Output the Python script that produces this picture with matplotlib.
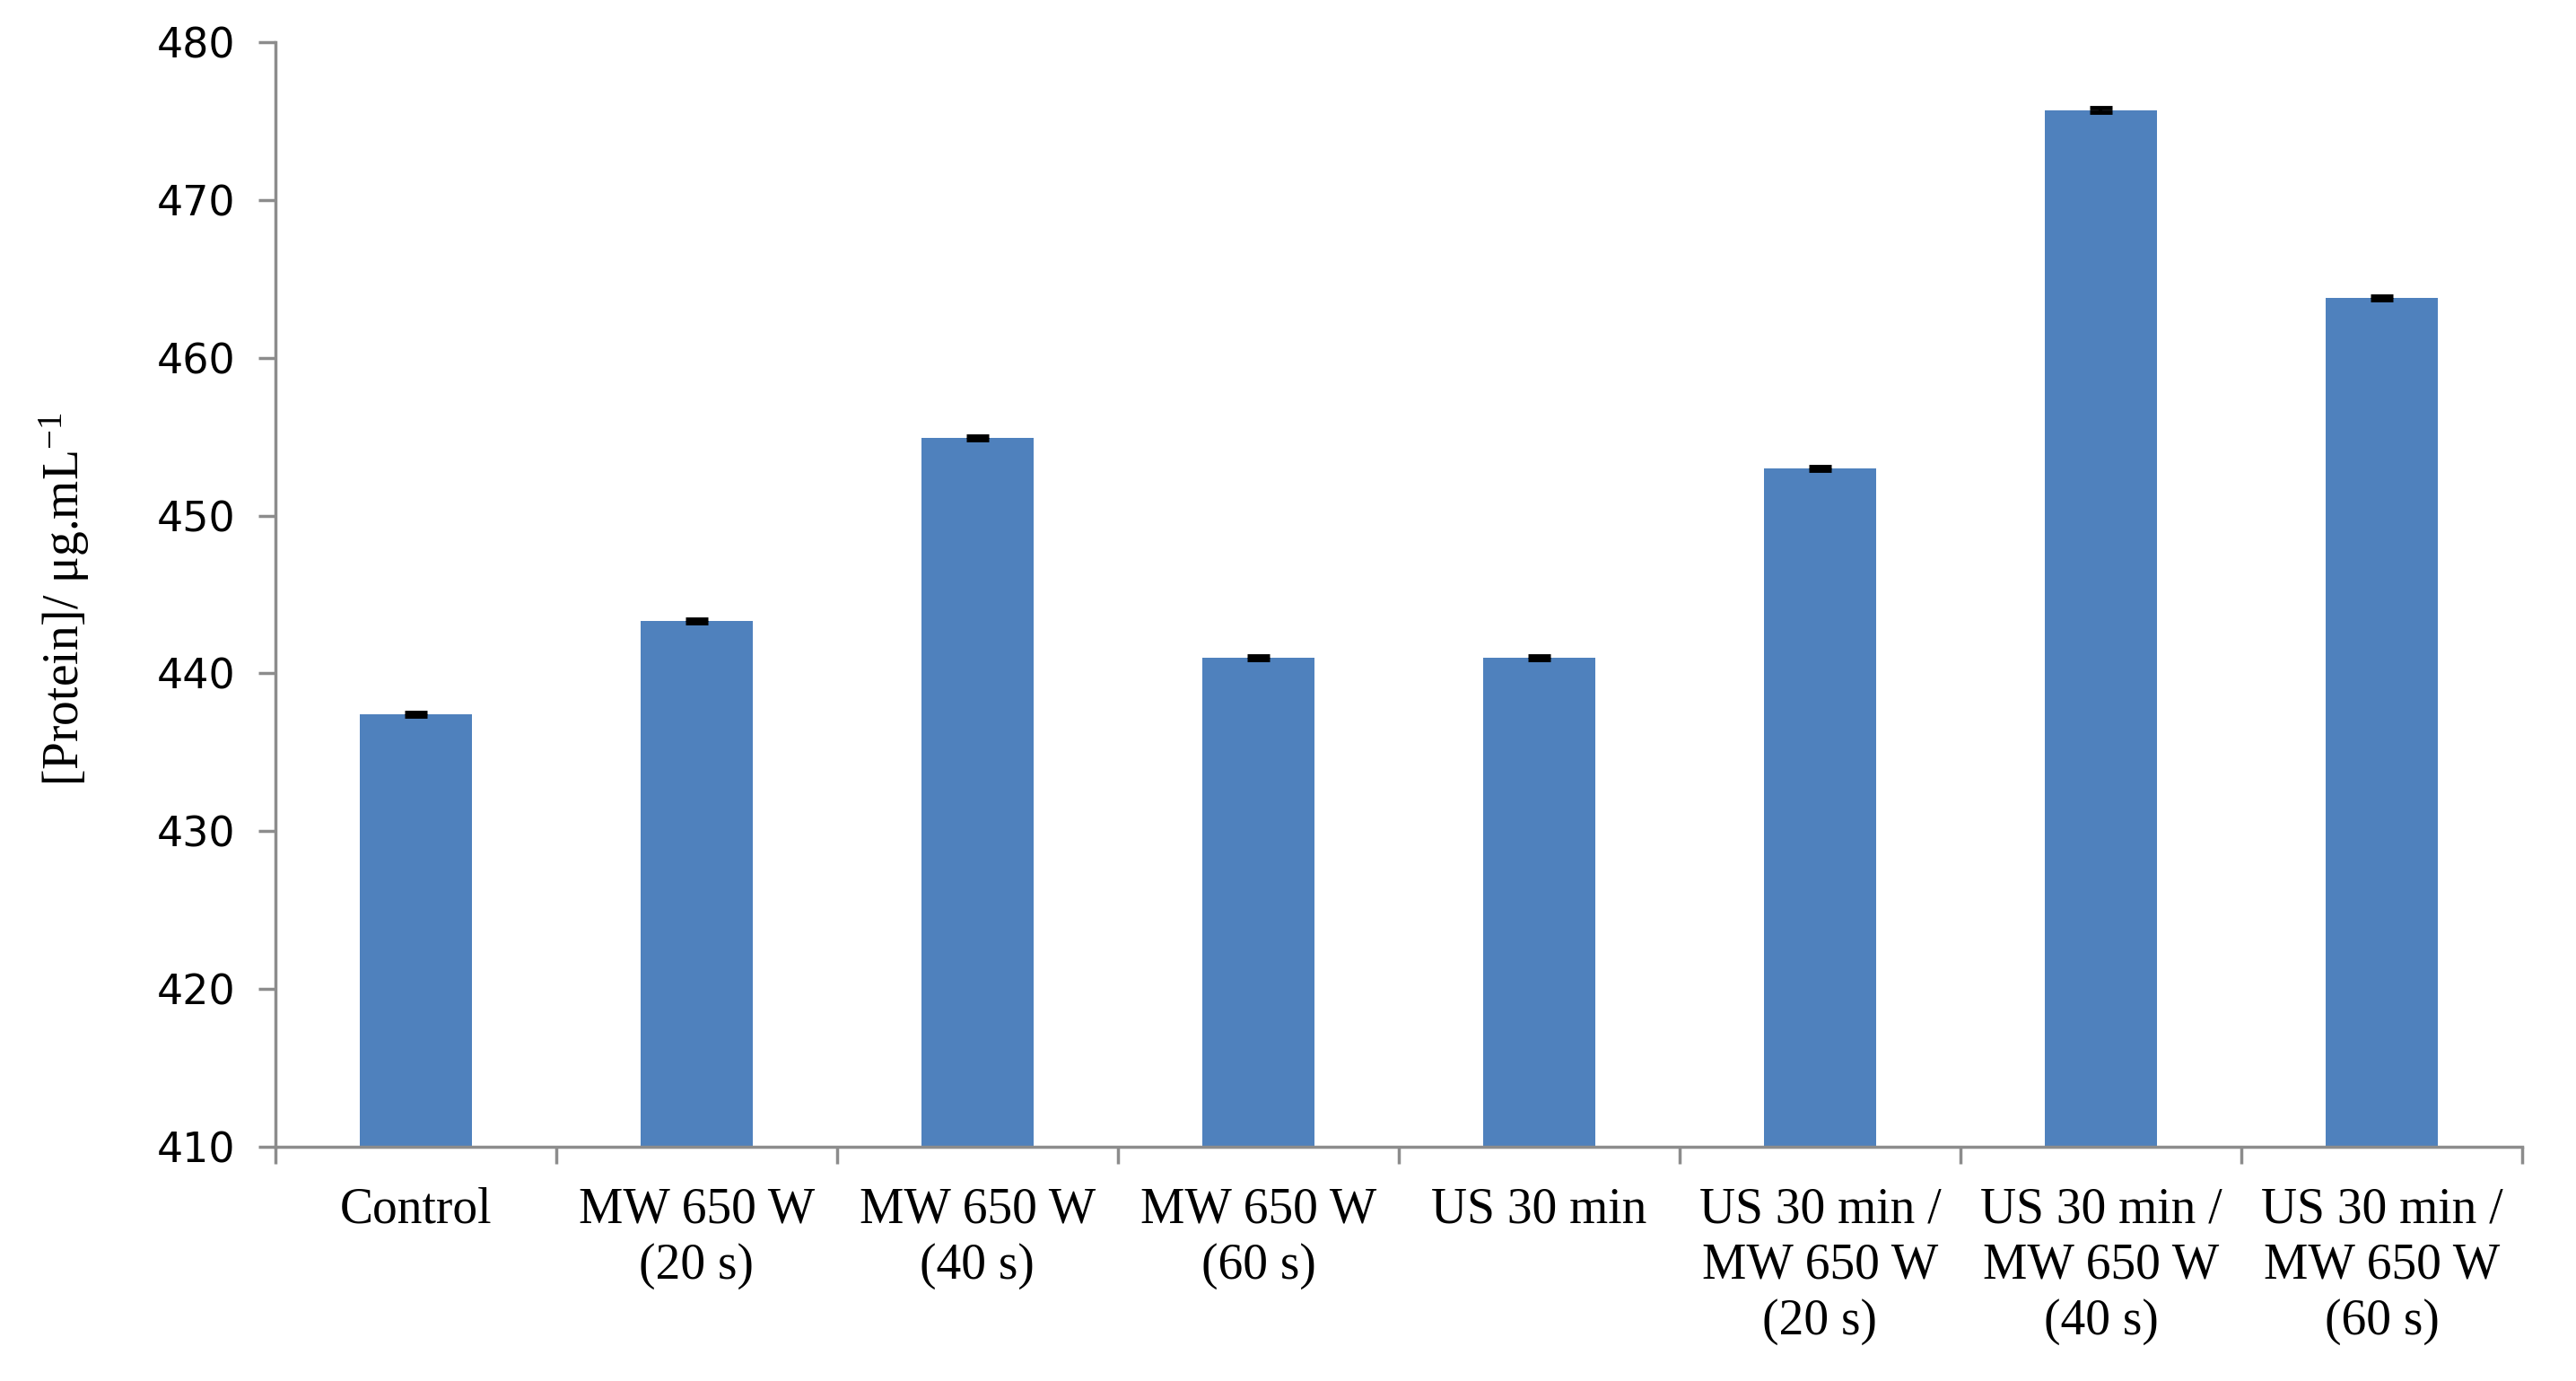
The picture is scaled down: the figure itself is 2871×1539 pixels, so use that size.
import matplotlib.pyplot as plt
import numpy as np

# data
categories = ['Control', 'MW 650 W\n(20 s)', 'MW 650 W\n(40 s)', 'MW 650 W\n(60 s)',
              'US 30 min', 'US 30 min /\nMW 650 W\n(20 s)', 'US 30 min /\nMW 650 W\n(40 s)',
              'US 30 min /\nMW 650 W\n(60 s)']
protein = [437.4, 443.3, 454.9, 441.0, 441.0, 453.0, 475.7, 463.8]
errors = [0.12, 0.12, 0.12, 0.12, 0.12, 0.12, 0.12, 0.12]
y_ticks = [410, 420, 430, 440, 450, 460, 470, 480]

plt.rcParams['mathtext.default'] = 'regular'

fig = plt.figure(figsize=(28.71, 15.39), dpi=100)
ax = fig.add_axes([0.1069, 0.1696, 0.8722, 0.7999])

x = np.arange(len(categories))
ax.bar(x, protein, width=0.4, color='#4F81BD', zorder=2,
       yerr=errors, error_kw=dict(ecolor='black', elinewidth=3, capsize=9, capthick=3.5))

ax.set_ylim(410, 480)
ax.set_xlim(-0.5, len(categories) - 0.5)

# axis styling
axis_grey = '#8c8c8c'
for side in ['top', 'right']:
    ax.spines[side].set_visible(False)
for side in ['left', 'bottom']:
    ax.spines[side].set_color(axis_grey)
    ax.spines[side].set_linewidth(2.5)

ax.set_yticks(y_ticks)
ax.set_yticklabels([str(v) for v in y_ticks], fontsize=33, family='DejaVu Sans')
ax.tick_params(axis='y', length=14, width=2.5, color=axis_grey, pad=18)

# ticks on category borders, labels in the middle
ax.set_xticks(np.arange(-0.5, len(categories), 1.0))
ax.set_xticklabels([])
ax.tick_params(axis='x', which='major', length=14, width=2.5, color=axis_grey)
ax.set_xticks(x, minor=True)
ax.set_xticklabels(categories, minor=True, fontsize=40, family='Liberation Serif',
                   linespacing=1.25)
ax.tick_params(axis='x', which='minor', length=0, pad=32)

ax.set_ylabel('[Protein]/ μg.mL$^{-1}$', fontsize=40, family='Liberation Serif')
ax.yaxis.set_label_coords(-0.082, 0.496)

plt.savefig('out.png', dpi=100)
